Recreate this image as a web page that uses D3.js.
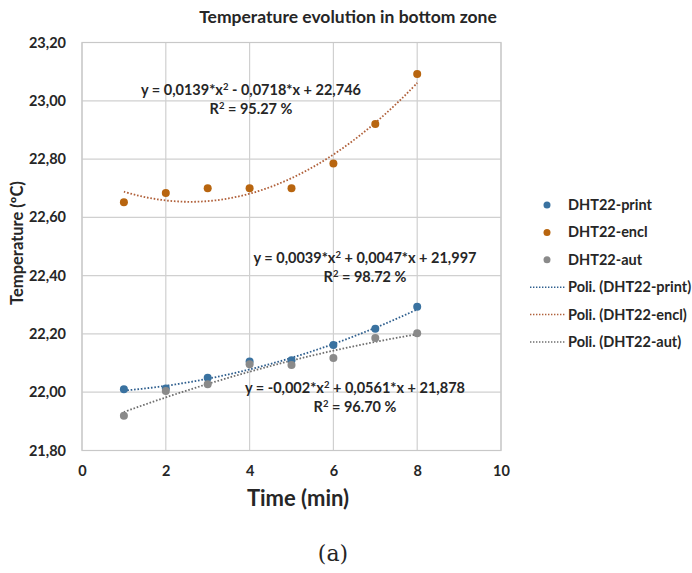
<!DOCTYPE html>
<html lang="en">
<head>
<meta charset="UTF-8">
<title>Temperature evolution in bottom zone</title>
<script src="https://d3js.org/d3.v7.min.js"></script>
<style>
  body { margin: 0; background: #fff; }
  svg text { font-family: Lato, "Open Sans", sans-serif; fill: #262626; }
</style>
</head>
<body>
<div id="chart"></div>
<script>
// data
const times = [1, 2, 3, 4, 5, 6, 7, 8];
const dhtPrint = [22.01, 22.013, 22.05, 22.105, 22.11, 22.162, 22.218, 22.293];
const dhtEncl = [22.652, 22.684, 22.70, 22.70, 22.70, 22.785, 22.92, 23.092];
const dhtAut = [21.919, 22.004, 22.027, 22.096, 22.093, 22.117, 22.186, 22.202];

// trendline coefficients printed on the chart (a*x^2 + b*x + c)
const fitPrint = [0.0039, 0.0047, 21.997];
const fitEncl = [0.0139, -0.0718, 22.746];
const fitAut = [-0.002, 0.0561, 21.878];

const xTicks = [0, 2, 4, 6, 8, 10];
const yTicks = [21.8, 22.0, 22.2, 22.4, 22.6, 22.8, 23.0, 23.2];

const W = 692, H = 573;
const margin = {top: 42.5, right: 191, bottom: 122.5, left: 82};

const svg = d3.select("#chart").append("svg")
    .attr("width", W)
    .attr("height", H);

const x = d3.scaleLinear().domain([0, 10]).range([margin.left, W - margin.right]);
const y = d3.scaleLinear().domain([21.8, 23.2]).range([H - margin.bottom, margin.top]);

const comma = d3.formatLocale({decimal: ",", thousands: ".", grouping: [3], currency: ["", ""]});
const fmtY = comma.format(".2f");

// grid
const grid = svg.append("g");
grid.selectAll(".gx").data(xTicks).join("line")
    .attr("x1", d => x(d)).attr("x2", d => x(d))
    .attr("y1", y(21.8)).attr("y2", y(23.2))
    .attr("stroke", "#d0d0d0").attr("stroke-width", 1.2);
grid.selectAll(".gy").data(yTicks).join("line")
    .attr("x1", x(0)).attr("x2", x(10))
    .attr("y1", d => y(d)).attr("y2", d => y(d))
    .attr("stroke", "#d0d0d0").attr("stroke-width", 1.2);

// axes labels
const yAxis = svg.append("g")
    .attr("transform", `translate(${x(0)},0)`)
    .call(d3.axisLeft(y).tickValues(yTicks).tickFormat(fmtY).tickSize(0).tickPadding(16));
yAxis.select(".domain").remove();
yAxis.selectAll("text").style("font-size", "14.5px").style("font-weight", "bold")
    .style("font-family", "Lato, sans-serif").attr("fill", "#262626");

const xAxis = svg.append("g")
    .attr("transform", `translate(0,${y(21.8)})`)
    .call(d3.axisBottom(x).tickValues(xTicks).tickFormat(d3.format("d")).tickSize(0).tickPadding(15));
xAxis.select(".domain").remove();
xAxis.selectAll("text").style("font-size", "14.5px").style("font-weight", "bold")
    .style("font-family", "Lato, sans-serif").attr("fill", "#262626");

// title & axis titles
svg.append("text")
    .attr("x", 348).attr("y", 23)
    .attr("text-anchor", "middle")
    .style("font-size", "17.5px").style("font-weight", "bold")
    .text("Temperature evolution in bottom zone");

svg.append("text")
    .attr("transform", "translate(23,243) rotate(-90)")
    .attr("text-anchor", "middle")
    .style("font-size", "16.5px").style("font-weight", "bold")
    .text("Temperature (ºC)");

svg.append("text")
    .attr("x", 298).attr("y", 506)
    .attr("text-anchor", "middle")
    .style("font-size", "22px").style("font-weight", "bold")
    .text("Time (min)");

svg.append("text")
    .attr("x", 333).attr("y", 561)
    .attr("text-anchor", "middle")
    .style("font-family", "'DejaVu Serif', 'Liberation Serif', serif")
    .style("font-size", "22px")
    .attr("fill", "#000")
    .text("(a)");

// series
const series = [
  {name: "DHT22-print", values: dhtPrint, fit: fitPrint, color: "#3a72a0", line: "#2f5f8e"},
  {name: "DHT22-encl", values: dhtEncl, fit: fitEncl, color: "#b8650f", line: "#b0603a"},
  {name: "DHT22-aut", values: dhtAut, fit: fitAut, color: "#8a8a8a", line: "#6e6e6e"}
];

const poly = (c, t) => c[0] * t * t + c[1] * t + c[2];
const trend = d3.line().x(d => x(d[0])).y(d => y(d[1])).curve(d3.curveBasis);

series.forEach(s => {
  // sample the printed polynomial between first and last time
  const pts = d3.range(times[0], times[times.length - 1] + 0.001, 0.1).map(t => [t, poly(s.fit, t)]);
  svg.append("path")
      .attr("d", trend(pts))
      .attr("fill", "none")
      .attr("stroke", s.line)
      .attr("stroke-width", 1.8)
      .attr("stroke-dasharray", "1.6,1.8");
});

series.forEach(s => {
  svg.append("g").selectAll("circle")
      .data(times.map((t, i) => [t, s.values[i]]))
      .join("circle")
      .attr("cx", d => x(d[0]))
      .attr("cy", d => y(d[1]))
      .attr("r", 4)
      .attr("fill", s.color);
});

// equations
const eqs = [
  {eq: "y = 0,0139*x", rest: " - 0,0718*x + 22,746", r2: "95.27 %", cx: 251, cy: 95},
  {eq: "y = 0,0039*x", rest: " + 0,0047*x + 21,997", r2: "98.72 %", cx: 365, cy: 263},
  {eq: "y = -0,002*x", rest: " + 0,0561*x + 21,878", r2: "96.70 %", cx: 355, cy: 393}
];
eqs.forEach(e => {
  const t1 = svg.append("text")
      .attr("x", e.cx).attr("y", e.cy)
      .attr("text-anchor", "middle")
      .style("font-size", "14.5px").style("font-weight", "bold");
  t1.append("tspan").text(e.eq);
  t1.append("tspan").attr("dy", -5).style("font-size", "9.5px").text("2");
  t1.append("tspan").attr("dy", 5).text(e.rest);
  const t2 = svg.append("text")
      .attr("x", e.cx).attr("y", e.cy + 19)
      .attr("text-anchor", "middle")
      .style("font-size", "14.5px").style("font-weight", "bold");
  t2.append("tspan").text("R");
  t2.append("tspan").attr("dy", -5).style("font-size", "9.5px").text("2");
  t2.append("tspan").attr("dy", 5).text(" = " + e.r2);
});

// plot border
svg.append("rect")
    .attr("x", x(0)).attr("y", y(23.2))
    .attr("width", x(10) - x(0)).attr("height", y(21.8) - y(23.2))
    .attr("fill", "none").attr("stroke", "#c8c8c8").attr("stroke-width", 1.2);

// legend
const legendItems = [
  ...series.map(s => ({label: s.name, type: "dot", color: s.color})),
  ...series.map(s => ({label: "Poli. (" + s.name + ")", type: "line", color: s.line}))
];
const legend = svg.append("g");
const rows = legend.selectAll("g").data(legendItems).join("g")
    .attr("transform", (d, i) => `translate(0,${205 + i * 27.4})`);
rows.filter(d => d.type === "dot").append("circle")
    .attr("cx", 547).attr("cy", 0).attr("r", 3.5)
    .attr("fill", d => d.color);
rows.filter(d => d.type === "line").append("line")
    .attr("x1", 530).attr("x2", 566)
    .attr("stroke", d => d.color).attr("stroke-width", 1.5)
    .attr("stroke-dasharray", "1.4,1.6");
rows.append("text")
    .attr("x", 568).attr("y", 5)
    .style("font-size", "14.5px").style("font-weight", "bold")
    .text(d => d.label);
</script>
</body>
</html>
